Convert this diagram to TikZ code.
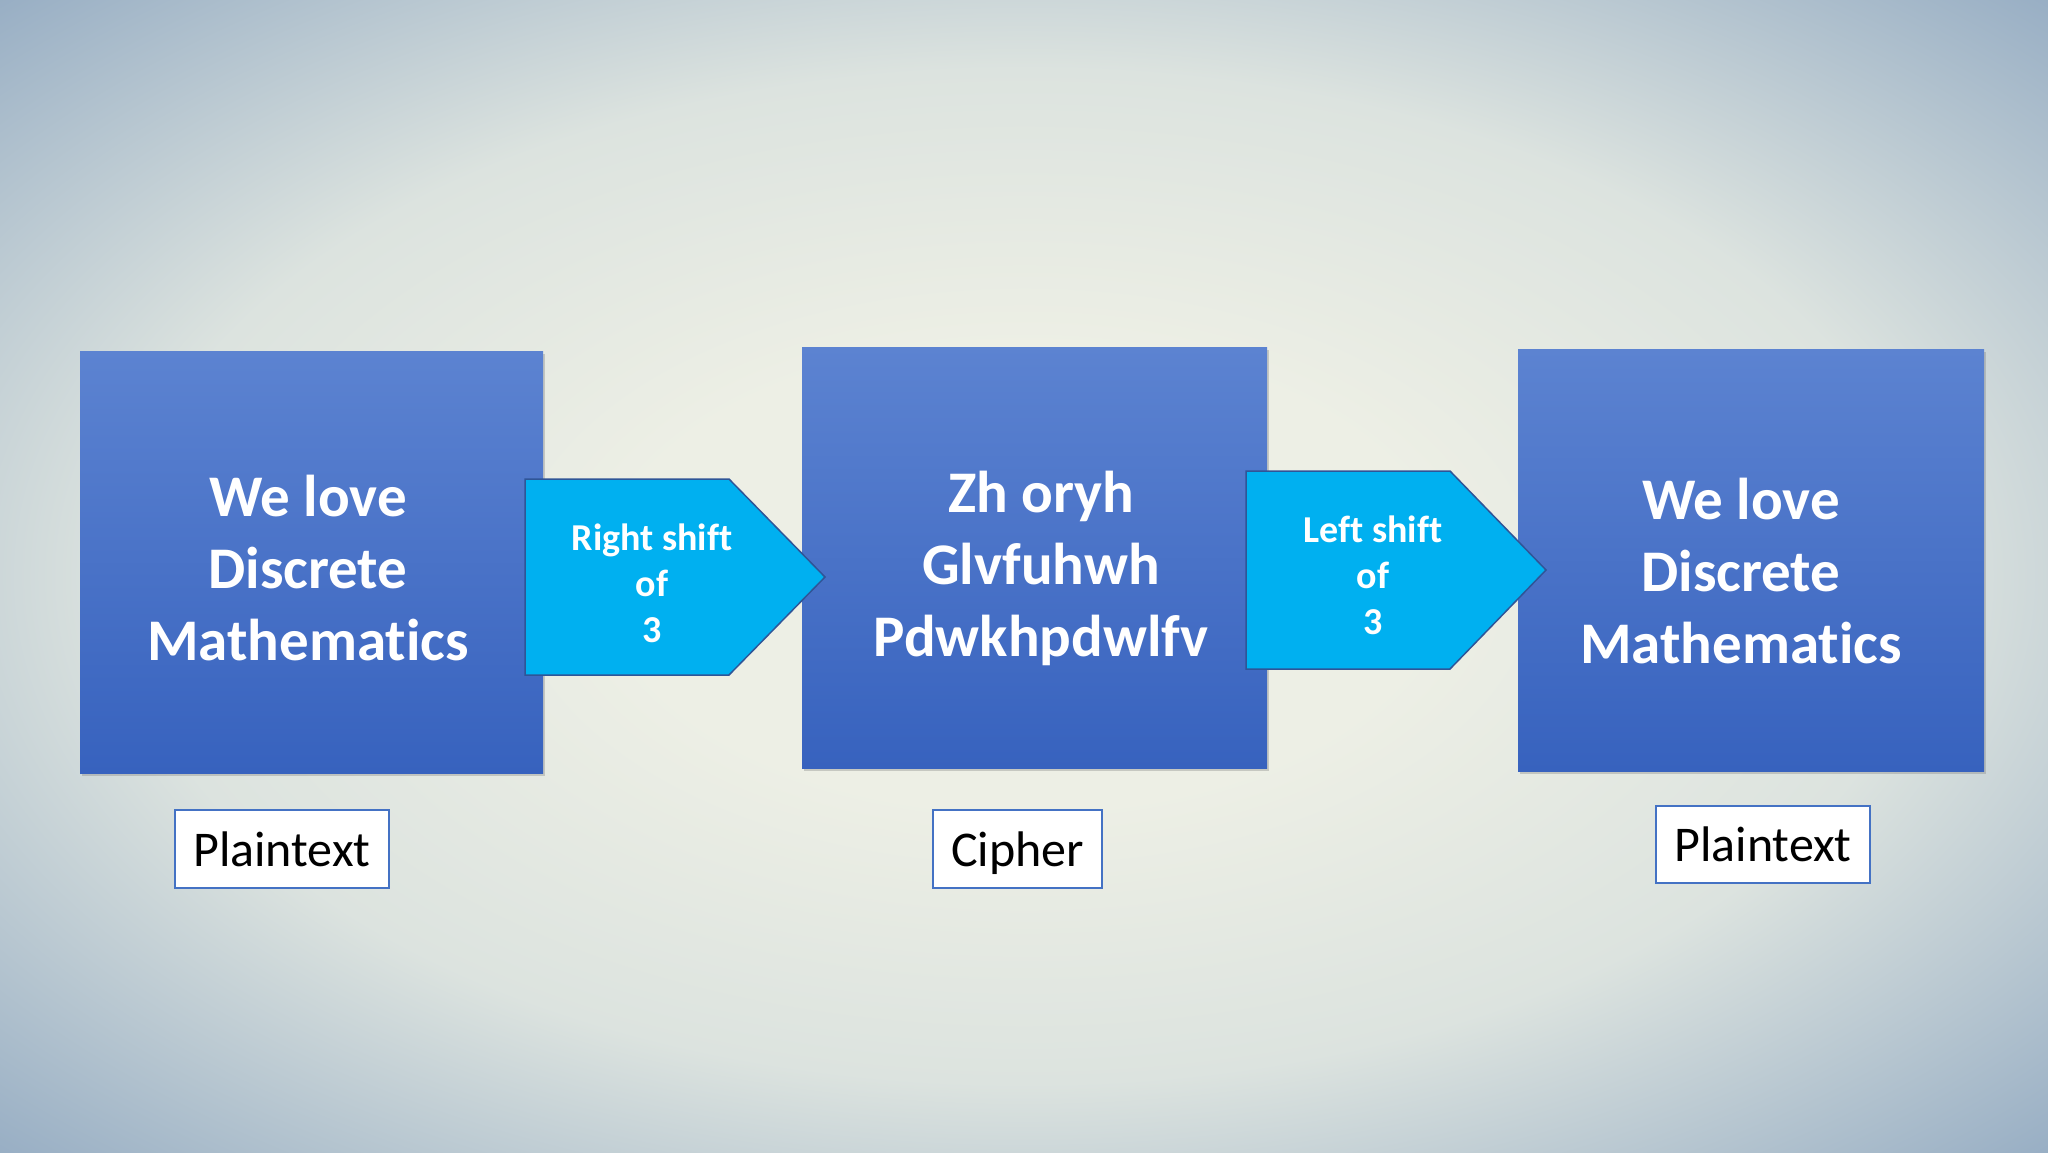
\documentclass[tikz,border=0pt]{standalone}
\usepackage{fontspec}
\setmainfont{Carlito}[Ligatures=NoCommon]
\usetikzlibrary{shadows}
\definecolor{bgin}{HTML}{EDEFE5}
\definecolor{bgmid}{HTML}{DCE3DF}
\definecolor{bgout}{HTML}{95ACC3}
\definecolor{boxtop}{HTML}{5C83D1}
\definecolor{boxbot}{HTML}{3762BE}
\definecolor{arrfill}{HTML}{00B0F0}
\definecolor{arrline}{HTML}{2F5597}
\definecolor{lblline}{HTML}{4472C4}
\pgfdeclareradialshading{bgshade}{\pgfpoint{0bp}{0bp}}{color(0bp)=(bgin); color(10bp)=(bgin); color(22bp)=(bgmid); color(36bp)=(bgout); color(50bp)=(bgout)}
\tikzset{
  bigbox/.style={rectangle, anchor=north west, inner sep=0pt, top color=boxtop, bottom color=boxbot,
    drop shadow={shadow xshift=2pt, shadow yshift=-3pt, opacity=0.35}},
  bigtxt/.style={text=white, align=center, font=\bfseries\fontsize{59}{72}\selectfont},
  shiftarrow/.style={fill=arrfill, draw=arrline, line width=1.5pt, line join=miter},
  arrtxt/.style={text=white, align=center, font=\bfseries\fontsize{38}{46}\selectfont},
  lbl/.style={rectangle, draw=lblline, line width=2pt, fill=white, inner sep=0pt,
    text height=40pt, text depth=6pt,
    font=\fontsize{50}{60}\selectfont, text=black}
}
\begin{document}
\begin{tikzpicture}[x=1pt,y=-1pt]
\useasboundingbox (0,0) rectangle (2048,1152);
\shade[shading=bgshade] (0,0) rectangle (2048,1152);
% big boxes
\node[bigbox, minimum width=463pt, minimum height=422pt] (b1) at (80,351) {};
\node[bigbox, minimum width=465pt, minimum height=421pt] (b2) at (802,347) {};
\node[bigbox, minimum width=466pt, minimum height=422pt] (b3) at (1518,349) {};
\node[bigtxt] (t1) at (308,568) {We love\\Discrete\\Mathematics};
\node[bigtxt] (t2) at (1041,568) {Zh oryh\\Glvfuhwh\\Pdwkhpdwlfv};
\node[bigtxt] (t3) at (1741,571) {We love\\Discrete\\Mathematics};
% shift arrows
\draw[shiftarrow] (525,479) -- (729,479) -- (825,577) -- (729,675) -- (525,675) -- cycle;
\draw[shiftarrow] (1246,471) -- (1450,471) -- (1546,570) -- (1450,669) -- (1246,669) -- cycle;
\node[arrtxt] (at1) at (652,583) {Right shift\\of\\3};
\node[arrtxt] (at2) at (1373,575) {Left shift\\of\\3};
% labels
\node[lbl, minimum width=214pt, minimum height=78pt] (l1) at (282,849) {Plaintext};
\node[lbl, minimum width=169pt, minimum height=78pt] (l2) at (1017.5,849) {Cipher};
\node[lbl, minimum width=214pt, minimum height=77pt] (l3) at (1763,844.5) {Plaintext};
\end{tikzpicture}
\end{document}
